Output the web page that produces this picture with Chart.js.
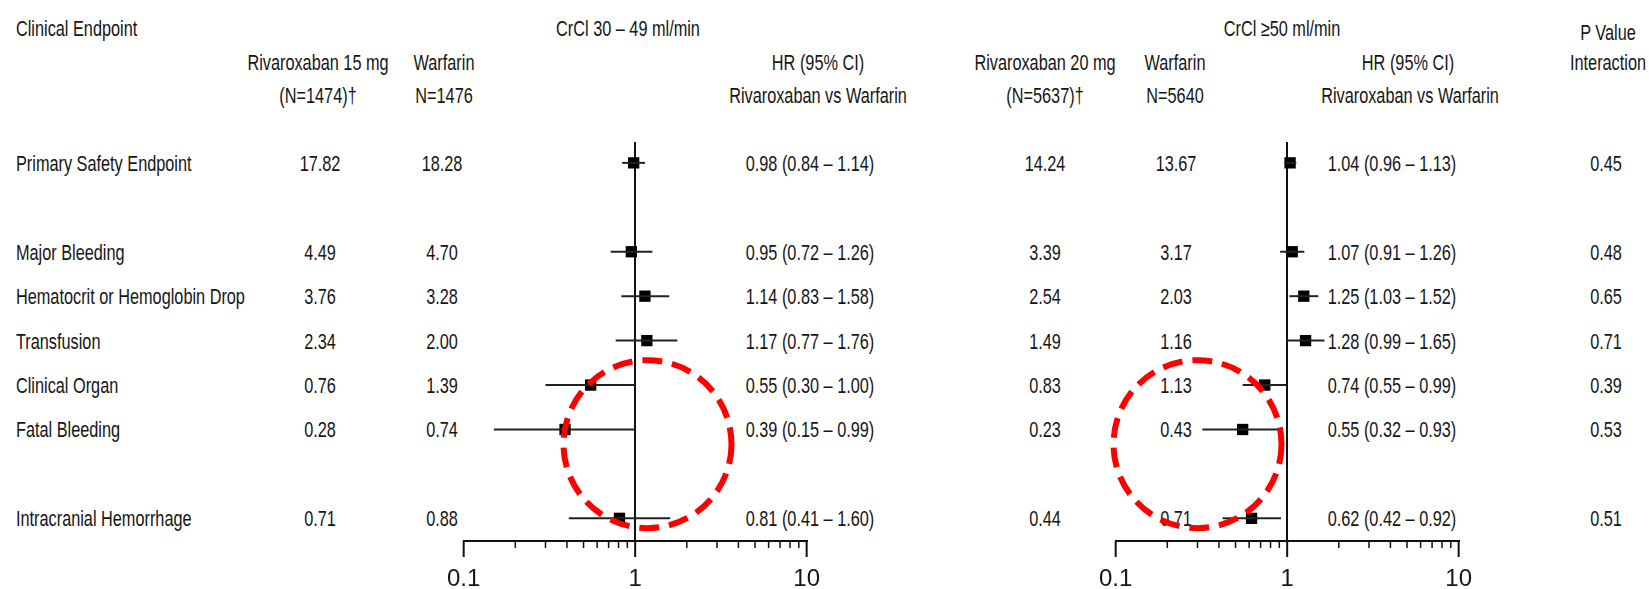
<!DOCTYPE html>
<html>
<head>
<meta charset="utf-8">
<script src="https://cdn.jsdelivr.net/npm/chart.js@4.4.1/dist/chart.umd.min.js"></script>
<style>
html, body { margin: 0; padding: 0; background: #fff; overflow: hidden; }
#page { position: relative; width: 1649px; height: 589px; }
.t { position: absolute; white-space: nowrap; font-family: "Liberation Sans", Arial, sans-serif;
     font-size: 22px; line-height: 26px; color: #161616; }
canvas { position: absolute; z-index: 2; }
</style>
</head>
<body>
<div id="page">
  <canvas id="left" width="403" height="457"></canvas>
  <canvas id="right" width="403" height="457"></canvas>
</div>
<script>
// rows of the table
var endpoints = ['Primary Safety Endpoint', 'Major Bleeding', 'Hematocrit or Hemoglobin Drop',
                 'Transfusion', 'Clinical Organ', 'Fatal Bleeding', 'Intracranial Hemorrhage'];
var rowPos = [0, 2, 3, 4, 5, 6, 8];

// CrCl 30 - 49 ml/min
var riv15 = [17.82, 4.49, 3.76, 2.34, 0.76, 0.28, 0.71];
var warf30 = [18.28, 4.70, 3.28, 2.00, 1.39, 0.74, 0.88];
var hr30 = [0.98, 0.95, 1.14, 1.17, 0.55, 0.39, 0.81];
var lo30 = [0.84, 0.72, 0.83, 0.77, 0.30, 0.15, 0.41];
var hi30 = [1.14, 1.26, 1.58, 1.76, 1.00, 0.99, 1.60];

// CrCl >= 50 ml/min
var riv20 = [14.24, 3.39, 2.54, 1.49, 0.83, 0.23, 0.44];
var warf50 = [13.67, 3.17, 2.03, 1.16, 1.13, 0.43, 0.71];
var hr50 = [1.04, 1.07, 1.25, 1.28, 0.74, 0.55, 0.62];
var lo50 = [0.96, 0.91, 1.03, 0.99, 0.55, 0.32, 0.42];
var hi50 = [1.13, 1.26, 1.52, 1.65, 0.99, 0.93, 0.92];

var pInteraction = [0.45, 0.48, 0.65, 0.71, 0.39, 0.53, 0.51];

var tickLabels = [0.1, 1, 10];
var minorTicks = [0.2, 0.3, 0.4, 0.5, 0.6, 0.7, 0.8, 0.9, 2, 3, 4, 5, 6, 7, 8, 9];

var page = document.getElementById('page');

function put(txt, x, y, align) {
  var d = document.createElement('div');
  d.className = 't';
  d.textContent = txt;
  d.style.left = x + 'px';
  d.style.top = (y - 12) + 'px';
  if (align === 'left') {
    d.style.transformOrigin = 'left center';
    d.style.transform = 'scaleX(0.74)';
  } else {
    d.style.transform = 'translateX(-50%) scaleX(0.74)';
  }
  page.appendChild(d);
}

function f2(v) { return v.toFixed(2); }

// axis ticks drawn down from the baseline, long ones at the decades
var tickMarks = {
  id: 'tickMarks',
  afterDraw: function(chart) {
    var sx = chart.scales.x, ctx = chart.ctx, y0 = chart.chartArea.bottom;
    ctx.save();
    ctx.strokeStyle = '#111';
    function mark(v, len, w) {
      var px = sx.getPixelForValue(v);
      ctx.lineWidth = w;
      ctx.beginPath();
      ctx.moveTo(px, y0);
      ctx.lineTo(px, y0 + len);
      ctx.stroke();
    }
    minorTicks.forEach(function(v) { mark(v, 7, 1.5); });
    tickLabels.forEach(function(v) { mark(v, 16, 2); });
    ctx.restore();
  }
};

// red dashed circle that is drawn over the picture
var ring = {
  id: 'ring',
  afterDraw: function(chart, args, opts) {
    if (!opts || opts.x == null) return;
    var ctx = chart.ctx;
    var cx = chart.scales.x.getPixelForValue(opts.x);
    var cy = chart.scales.y.getPixelForValue(opts.y);
    ctx.save();
    ctx.strokeStyle = '#ff0000';
    ctx.lineWidth = 6;
    ctx.setLineDash([20, 10]);
    ctx.beginPath();
    ctx.arc(cx, cy, opts.r, 0, Math.PI * 2);
    ctx.stroke();
    ctx.restore();
  }
};

function forest(id, axisLeft, axisRight, hr, lo, hi, ringAt) {
  var cv = document.getElementById(id);
  cv.style.top = '132px';
  var sets = rowPos.map(function(r, i) {
    return {
      type: 'line',
      data: [{ x: lo[i], y: r }, { x: hi[i], y: r }],
      borderColor: '#222', borderWidth: 2, pointRadius: 0, clip: false
    };
  });
  sets.push({
    type: 'scatter',
    data: rowPos.map(function(r, i) { return { x: hr[i], y: r }; }),
    pointStyle: 'rect', pointRadius: 8, backgroundColor: '#000', borderWidth: 0, clip: false
  });
  var chart = new Chart(cv, {
    type: 'scatter',
    data: { datasets: sets },
    options: {
      responsive: false,
      maintainAspectRatio: false,
      animation: false,
      events: [],
      layout: { padding: { left: 30, right: 30, top: 10, bottom: 0 } },
      plugins: { legend: { display: false }, tooltip: { enabled: false }, ring: ringAt },
      scales: {
        x: {
          type: 'logarithmic', min: 0.1, max: 10,
          afterFit: function(axis) { axis.height = 48; },
          border: { display: true, color: '#111', width: 2 },
          grid: {
            drawTicks: false,
            lineWidth: 2,
            color: function(c) { return c.tick && c.tick.value === 1 ? '#111' : 'rgba(0,0,0,0)'; }
          },
          ticks: {
            autoSkip: false, maxRotation: 0, padding: 24,
            color: '#161616',
            font: { family: 'Liberation Sans', size: 24 },
            callback: function(v) { return tickLabels.indexOf(v) >= 0 ? String(v) : ''; }
          }
        },
        y: { type: 'linear', reverse: true, min: -0.47, max: 8.51, display: false }
      }
    },
    plugins: [tickMarks, ring]
  });
  // fit the plot area to the wanted axis span
  var a = chart.chartArea;
  var extra = (axisRight - axisLeft) - (a.right - a.left);
  if (Math.abs(extra) > 0.5) chart.resize(cv.width + extra, 457);
  cv.style.left = (axisLeft - chart.chartArea.left) + 'px';
  return chart;
}

var cLeft = forest('left', 464, 807, hr30, lo30, hi30, { x: 1.18, y: 6.33, r: 84 });
var cRight = forest('right', 1116, 1459, hr50, lo50, hi50, { x: 0.30, y: 6.33, r: 84 });

// headers
put('Clinical Endpoint', 16, 28, 'left');
put('CrCl 30 \u2013 49 ml/min', 628, 28);
put('CrCl \u226550 ml/min', 1282, 28);
put('Rivaroxaban 15 mg', 318, 62); put('(N=1474)\u2020', 318, 95);
put('Warfarin', 444, 62); put('N=1476', 444, 95);
put('HR (95% CI)', 818, 62); put('Rivaroxaban vs Warfarin', 818, 95);
put('Rivaroxaban 20 mg', 1045, 62); put('(N=5637)\u2020', 1045, 95);
put('Warfarin', 1175, 62); put('N=5640', 1175, 95);
put('HR (95% CI)', 1408, 62); put('Rivaroxaban vs Warfarin', 1410, 95);
put('P Value', 1608, 32); put('Interaction', 1608, 62);

// table body, rows placed on the chart's own y scale
var top0 = 132;
endpoints.forEach(function(name, i) {
  var y = top0 + cLeft.scales.y.getPixelForValue(rowPos[i]);
  put(name, 16, y, 'left');
  put(f2(riv15[i]), 320, y);
  put(f2(warf30[i]), 442, y);
  put(f2(hr30[i]) + ' (' + f2(lo30[i]) + ' \u2013 ' + f2(hi30[i]) + ')', 810, y);
  put(f2(riv20[i]), 1045, y);
  put(f2(warf50[i]), 1176, y);
  put(f2(hr50[i]) + ' (' + f2(lo50[i]) + ' \u2013 ' + f2(hi50[i]) + ')', 1392, y);
  put(f2(pInteraction[i]), 1606, y);
});
</script>
</body>
</html>
